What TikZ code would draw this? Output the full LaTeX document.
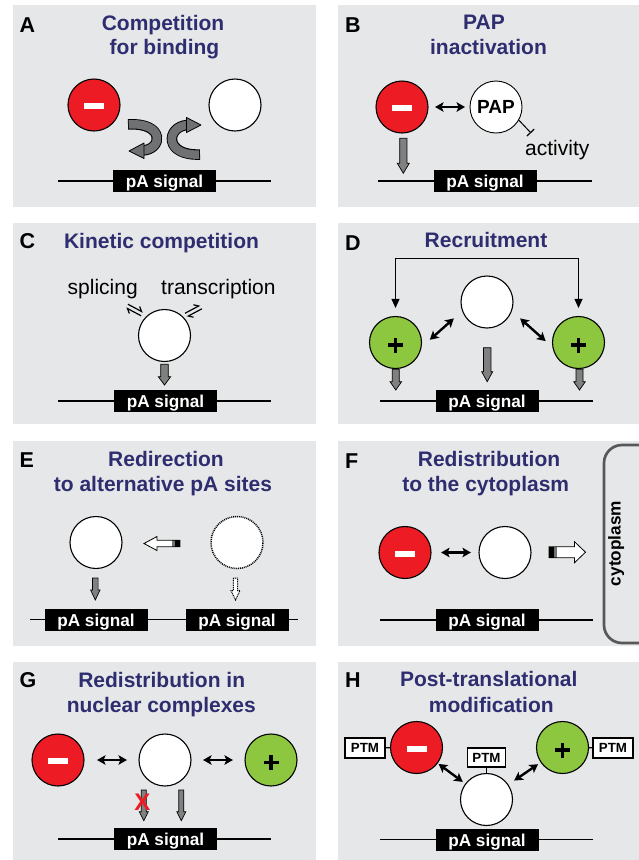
\documentclass[tikz,border=0pt]{standalone}
\usepackage{fontspec}
\setmainfont{Liberation Sans}
\usetikzlibrary{arrows.meta}

\definecolor{panelgray}{RGB}{230,231,232}
\definecolor{titleblue}{RGB}{46,45,112}
\definecolor{negred}{RGB}{237,28,36}
\definecolor{posgreen}{RGB}{141,198,63}
\definecolor{arrowgray}{RGB}{128,128,128}
\definecolor{ribbongray}{RGB}{112,113,115}
\definecolor{cytogray}{RGB}{88,88,90}

% block arrow pointing down: centre x, top y, tip y, shaft half-width, head half-width, head length
\newcommand\grayarrow[6]{%
  \filldraw[fill=arrowgray, draw=black, line width=0.7pt]
    ({#1-#4},#2) -- ({#1+#4},#2) -- ({#1+#4},{#3-#6}) -- ({#1+#5},{#3-#6})
    -- (#1,#3) -- ({#1-#5},{#3-#6}) -- ({#1-#4},{#3-#6}) -- cycle;}

% DNA line with a pA signal box: name, box centre x, y, line start x, line end x
\newcommand\pasig[5]{%
  \draw[line width=1.2pt] (#4,#3) -- (#5,#3);
  \node[sigbox] (#1) at (#2,#3) {pA signal};}

\tikzset{
  panel/.style={fill=panelgray},
  plabel/.style={anchor=base west, inner sep=0pt, font=\bfseries\fontsize{21.5}{24}\selectfont},
  ptitle/.style={anchor=base, inner sep=0pt, text=titleblue, font=\bfseries\fontsize{21}{24}\selectfont},
  plaintext/.style={anchor=base west, inner sep=0pt, font=\fontsize{21}{24}\selectfont},
  circ/.style={circle, draw=black, line width=1.1pt, minimum size=52pt, inner sep=0pt},
  freenode/.style={circ, fill=white},
  minusnode/.style={circ, fill=negred,
    path picture={\fill[white] ([shift={(-10pt,-4pt)}]path picture bounding box.center) rectangle ++(20pt,6pt);}},
  plusnode/.style={circ, fill=posgreen,
    path picture={\draw[line width=3.8pt] ([shift={(-7.5pt,-2.5pt)}]path picture bounding box.center) -- ++(15pt,0pt);
                  \draw[line width=3.8pt] ([shift={(0pt,-10pt)}]path picture bounding box.center) -- ++(0pt,15pt);}},
  sigbox/.style={fill=black, text=white, inner sep=0pt, minimum width=103pt,
    text height=17.7pt, text depth=4.3pt, font=\bfseries\fontsize{17.2}{20}\selectfont},
  dbl/.style={line width=2.4pt, {Stealth[length=8.5pt,width=9.5pt,inset=2pt]}-{Stealth[length=8.5pt,width=9.5pt,inset=2pt]}},
  harp/.style={line width=1.2pt, -{Straight Barb[harpoon, length=4pt, width=7pt]}},
  inhib/.style={line width=1pt, -{Bar[width=10pt, line width=1.2pt]}},
  bracketline/.style={line width=1pt, {Triangle[length=9pt,width=8pt]}-{Triangle[length=9pt,width=8pt]}},
  ptmbox/.style={draw=black, fill=white, line width=1.3pt, inner sep=0pt, minimum width=40pt, minimum height=20pt,
    font=\bfseries\fontsize{13.3}{15}\selectfont},
  hollowline/.style={draw=black, line width=0.8pt},
}

\begin{document}
\begin{tikzpicture}[x=1pt, y=-1pt]
\useasboundingbox (0,0) rectangle (639,860);
\fill[white] (0,0) rectangle (639,860);

% ---------- A: competition for binding ----------
\fill[panel] (13,5) rectangle (316,207);
\node[plabel] (labA) at (19.5,32) {A};
\node[ptitle] (tA1) at (163,30.5) {Competition};
\node[ptitle] (tA2) at (164.5,54) {for binding};
\node[minusnode] (aNeg) at (94,105) {};
\node[freenode] (aFree) at (235,105) {};
% curled exchange arrows
\draw[line width=10.5pt] (128,124.5) .. controls (165,122) and (163,150) .. (142,150.5);
\draw[line width=8.5pt, ribbongray, shorten <=0.8pt] (128,124.5) .. controls (165,122) and (163,150) .. (142,150.5);
\filldraw[fill=ribbongray, draw=black, line width=0.8pt, line join=round] (129,151) -- (144,143) -- (144,158.5) -- cycle;
\draw[line width=10.5pt] (200,154.5) .. controls (164,156) and (166,127) .. (187,125);
\draw[line width=8.5pt, ribbongray, shorten <=0.8pt] (200,154.5) .. controls (164,156) and (166,127) .. (187,125);
\filldraw[fill=ribbongray, draw=black, line width=0.8pt, line join=round] (201,125) -- (186.5,117.5) -- (186.5,132.5) -- cycle;
\pasig{aSig}{164.5}{181}{58}{271}

% ---------- B: PAP inactivation ----------
\fill[panel] (338,5) rectangle (639,207);
\node[plabel] (labB) at (345,32) {B};
\node[ptitle] (tB1) at (484,29.5) {PAP};
\node[ptitle] (tB2) at (488.5,54) {inactivation};
\node[minusnode] (bNeg) at (402,107) {};
\node[circ, fill=white, line width=0.9pt, font=\bfseries\fontsize{19}{20}\selectfont] (bPap) at (496,107) {PAP};
\draw[dbl, shorten <=6.5pt, shorten >=4.5pt] (bNeg) -- (bPap);
\coordinate (bInh) at (531,133);
\draw[inhib] (bPap.-30) -- (bInh);
\node[plaintext] (bAct) at (525,155.5) {activity};
\grayarrow{403.3}{138.3}{173.3}{3.6}{6}{10}
\pasig{bSig}{485}{181}{378}{592}

% ---------- C: kinetic competition ----------
\fill[panel] (13,223) rectangle (316,424);
\node[plabel] (labC) at (19.5,248.5) {C};
\node[ptitle] (tC) at (161.5,248.3) {Kinetic competition};
\node[plaintext] (cSpl) at (67.5,294.3) {splicing};
\node[plaintext] (cTrn) at (161,294.3) {transcription};
\node[freenode] (cFree) at (164.5,335.5) {};
\begin{scope}[shift={(134.5,310)}, rotate=-28]
  \draw[harp] (-8.5,-2) -- (8.5,-2);
  \draw[harp] (8.5,2) -- (-8.5,2);
\end{scope}
\begin{scope}[shift={(193.5,311)}, rotate=28]
  \draw[harp] (-8.5,-2) -- (8.5,-2);
  \draw[harp] (8.5,2) -- (-8.5,2);
\end{scope}
\grayarrow{164.5}{364.3}{385}{3.8}{6.2}{8.3}
\pasig{cSig}{165.5}{401}{58}{271}

% ---------- D: recruitment ----------
\fill[panel] (338,223) rectangle (639,424);
\node[plabel] (labD) at (345,250) {D};
\node[ptitle] (tD) at (486,247.8) {Recruitment};
\node[freenode] (dFree) at (487,302) {};
\node[plusnode] (dPosL) at (395.5,342.5) {};
\node[plusnode] (dPosR) at (578.5,342.5) {};
\coordinate (dTop) at (0,258);
\draw[bracketline] ([yshift=8pt]dPosL.north) |- (dTop -| dPosR) -- ([yshift=8pt]dPosR.north);
\draw[dbl, shorten <=11pt, shorten >=11pt] (dPosL.-10) -- (dFree.200);
\draw[dbl, shorten <=11pt, shorten >=9pt] (dFree.-20) -- (dPosR.190);
\grayarrow{487.2}{347.7}{381.7}{3.7}{5.5}{10}
\grayarrow{395.8}{369.3}{390}{3.5}{5.8}{8.3}
\grayarrow{579.5}{369.3}{390}{3.5}{5.8}{8.3}
\pasig{dSig}{487}{401}{380}{593}

% ---------- E: redirection to alternative pA sites ----------
\fill[panel] (13,441) rectangle (316,646);
\node[plabel] (labE) at (19.5,467) {E};
\node[ptitle] (tE1) at (166,466.5) {Redirection};
\node[ptitle] (tE2) at (163,491.5) {to alternative pA sites};
\node[freenode] (eFree) at (96,542.5) {};
\node[circ, fill=white, line width=1.5pt, dash pattern=on 1pt off 0.9pt] (eGhost) at (237,542.5) {};
\fill[white] (180,540.2) -- (157,540.2) -- (157,536.5) -- (144,543.5) -- (157,550.5) -- (157,546.8) -- (180,546.8) -- cycle;
\fill[black!55] (172,540.2) rectangle (175,546.8);
\fill[black] (175,540.2) rectangle (180,546.8);
\draw[hollowline] (180,540.2) -- (157,540.2) -- (157,536.5) -- (144,543.5) -- (157,550.5) -- (157,546.8) -- (180,546.8) -- cycle;
\grayarrow{95.3}{578}{600}{2.8}{4.7}{10}
\filldraw[fill=white, draw=black, line width=1pt, dash pattern=on 1pt off 0.8pt]
  (233.3,578) -- (237.7,578) -- (237.7,590.5) -- (240,590.5) -- (235.5,600) -- (231,590.5) -- (233.3,590.5) -- cycle;
\draw[line width=1.2pt] (30,619.5) -- (298,619.5);
\node[sigbox] (eSig1) at (96,619.5) {pA signal};
\node[sigbox] (eSig2) at (237,619.5) {pA signal};

% ---------- F: redistribution to the cytoplasm ----------
\fill[panel] (338,441) rectangle (639,646);
\draw[cytogray, line width=2.7pt, rounded corners=18pt] (670,445) -- (604,445) -- (604,643) -- (670,643);
\node[rotate=90, anchor=base, inner sep=0pt, font=\bfseries\fontsize{17.2}{20}\selectfont] (fCyto) at (620.6,543.5) {cytoplasm};
\node[plabel] (labF) at (345,468) {F};
\node[ptitle] (tF1) at (489,466.5) {Redistribution};
\node[ptitle] (tF2) at (485.7,491) {to the cytoplasm};
\node[minusnode] (fNeg) at (405,552.5) {};
\node[freenode] (fFree) at (505,552.5) {};
\draw[dbl, shorten <=9.5pt, shorten >=7.5pt] (fNeg) -- (fFree);
\fill[white] (549,546.7) -- (574.5,546.7) -- (574.5,541.7) -- (585.5,552.2) -- (574.5,562.7) -- (574.5,557.7) -- (549,557.7) -- cycle;
\fill[black] (549,546.7) rectangle (554,557.7);
\fill[black!55] (554,546.7) rectangle (557,557.7);
\draw[hollowline] (549,546.7) -- (574.5,546.7) -- (574.5,541.7) -- (585.5,552.2) -- (574.5,562.7) -- (574.5,557.7) -- (549,557.7) -- cycle;
\pasig{fSig}{487}{620}{380}{593}

% ---------- G: redistribution in nuclear complexes ----------
\fill[panel] (13,662) rectangle (316,860);
\node[plabel] (labG) at (19.5,687.3) {G};
\node[ptitle] (tG1) at (161.7,687) {Redistribution in};
\node[ptitle] (tG2) at (161.3,712.5) {nuclear complexes};
\node[minusnode] (gNeg) at (58,760) {};
\node[freenode] (gFree) at (165,760) {};
\node[plusnode] (gPos) at (271,760) {};
\draw[dbl, shorten <=12.5pt, shorten >=11.5pt] (gNeg) -- (gFree);
\draw[dbl, shorten <=11.5pt, shorten >=11.5pt] (gFree) -- (gPos);
\grayarrow{143.8}{790}{820.7}{2.5}{4.5}{9}
\grayarrow{181.3}{790}{820.7}{2.5}{4.5}{9}
\node[text=negred, inner sep=0pt, font=\bfseries\fontsize{24}{24}\selectfont] (gX) at (142.5,802.5) {X};
\pasig{gSig}{165.5}{839}{58}{271}

% ---------- H: post-translational modification ----------
\fill[panel] (338,662) rectangle (639,860);
\node[plabel] (labH) at (345,687.3) {H};
\node[ptitle] (tH1) at (488.8,686.7) {Post-translational};
\node[ptitle] (tH2) at (491.3,712.5) {modification};
\node[minusnode] (hNeg) at (416.5,747.5) {};
\node[plusnode] (hPos) at (562.5,747.5) {};
\node[freenode] (hFree) at (486.5,799.5) {};
\node[ptmbox] (hPtmL) at (365,748) {PTM};
\node[ptmbox] (hPtmR) at (613,748) {PTM};
\node[ptmbox, minimum width=38pt, minimum height=19pt] (hPtmT) at (486.5,757.5) {PTM};
\draw[line width=1.2pt] (hPtmL) -- (hNeg);
\draw[line width=1.2pt] (hPos) -- (hPtmR);
\draw[line width=1.2pt] (hPtmT) -- (hFree);
\draw[dbl, shorten <=1pt, shorten >=3pt] (hNeg) -- (hFree);
\draw[dbl, shorten <=7pt, shorten >=3pt] (hFree) -- (hPos);
\pasig{hSig}{487}{839.5}{380}{593}
\end{tikzpicture}
\end{document}
